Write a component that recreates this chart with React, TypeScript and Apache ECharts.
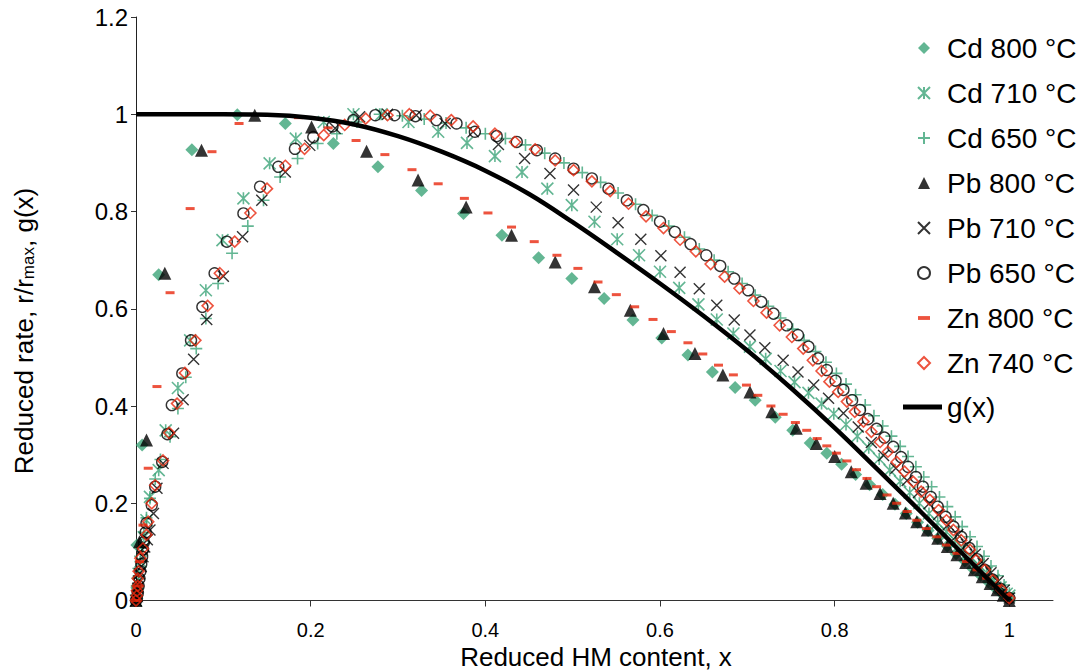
import React, { useEffect, useRef } from 'react';
import * as echarts from 'echarts';

const xTicks = [0, 0.2, 0.4, 0.6, 0.8, 1];
const yTicks = [0, 0.2, 0.4, 0.6, 0.8, 1, 1.2];

const cd800 = [[0,0],[0.001,0.01],[0.001,0.03],[0.001,0.114],[0.007,0.32],[0.026,0.67],[0.064,0.927],[0.116,0.999],[0.171,0.981],[0.226,0.94],[0.277,0.892],[0.327,0.843],[0.375,0.796],[0.419,0.751],[0.461,0.705],[0.499,0.662],[0.536,0.621],[0.569,0.577],[0.602,0.54],[0.632,0.505],[0.66,0.47],[0.686,0.438],[0.709,0.412],[0.732,0.377],[0.752,0.35],[0.772,0.324],[0.791,0.303],[0.808,0.28],[0.824,0.259],[0.84,0.238],[0.855,0.218],[0.869,0.198],[0.882,0.179],[0.895,0.161],[0.907,0.144],[0.918,0.128],[0.929,0.112],[0.939,0.096],[0.949,0.081],[0.958,0.066],[0.967,0.052],[0.976,0.038],[0.984,0.025],[0.992,0.013],[1.0,0.005]];

const cd710 = [[0,0],[0.001,0.015],[0.002,0.035],[0.003,0.055],[0.005,0.08],[0.007,0.105],[0.009,0.13],[0.012,0.165],[0.016,0.213],[0.026,0.268],[0.034,0.35],[0.048,0.437],[0.062,0.535],[0.08,0.638],[0.099,0.741],[0.123,0.827],[0.153,0.899],[0.183,0.95],[0.215,0.984],[0.249,1.0],[0.281,1.0],[0.312,0.984],[0.346,0.964],[0.379,0.941],[0.411,0.914],[0.442,0.881],[0.471,0.847],[0.499,0.813],[0.525,0.779],[0.551,0.743],[0.576,0.71],[0.6,0.676],[0.622,0.643],[0.644,0.609],[0.665,0.578],[0.684,0.549],[0.703,0.522],[0.721,0.497],[0.738,0.472],[0.754,0.449],[0.77,0.427],[0.785,0.405],[0.799,0.384],[0.813,0.362],[0.826,0.338],[0.839,0.314],[0.851,0.291],[0.863,0.268],[0.875,0.245],[0.886,0.222],[0.897,0.2],[0.908,0.179],[0.918,0.16],[0.928,0.141],[0.938,0.123],[0.947,0.106],[0.956,0.089],[0.965,0.073],[0.974,0.057],[0.982,0.042],[0.99,0.027],[0.997,0.014],[1.0,0.01]];

const cd650 = [[0,0],[0.001,0.01],[0.002,0.03],[0.003,0.05],[0.005,0.08],[0.007,0.11],[0.009,0.14],[0.012,0.17],[0.016,0.21],[0.022,0.25],[0.028,0.29],[0.039,0.337],[0.048,0.395],[0.057,0.459],[0.069,0.518],[0.08,0.58],[0.094,0.652],[0.11,0.714],[0.128,0.77],[0.146,0.823],[0.165,0.871],[0.185,0.909],[0.208,0.94],[0.23,0.96],[0.253,0.984],[0.279,1.0],[0.305,0.997],[0.33,0.99],[0.355,0.982],[0.378,0.972],[0.4,0.96],[0.423,0.95],[0.446,0.937],[0.468,0.92],[0.49,0.9],[0.511,0.88],[0.532,0.86],[0.552,0.838],[0.572,0.815],[0.591,0.792],[0.61,0.77],[0.628,0.747],[0.645,0.723],[0.662,0.7],[0.678,0.676],[0.694,0.652],[0.709,0.628],[0.724,0.605],[0.738,0.581],[0.752,0.558],[0.765,0.535],[0.778,0.512],[0.79,0.49],[0.802,0.467],[0.813,0.445],[0.824,0.423],[0.835,0.402],[0.845,0.38],[0.855,0.359],[0.865,0.338],[0.875,0.317],[0.884,0.296],[0.893,0.275],[0.902,0.254],[0.911,0.234],[0.92,0.213],[0.929,0.193],[0.938,0.172],[0.946,0.152],[0.955,0.131],[0.963,0.111],[0.971,0.091],[0.979,0.071],[0.987,0.051],[0.994,0.032],[1.0,0.015]];

const pb800 = [[0,0],[0.001,0.01],[0.002,0.03],[0.004,0.121],[0.012,0.33],[0.033,0.673],[0.075,0.926],[0.136,0.998],[0.201,0.974],[0.264,0.924],[0.323,0.865],[0.378,0.809],[0.43,0.751],[0.48,0.696],[0.525,0.645],[0.566,0.597],[0.604,0.549],[0.64,0.508],[0.672,0.464],[0.703,0.429],[0.728,0.388],[0.756,0.354],[0.779,0.323],[0.8,0.296],[0.819,0.265],[0.836,0.241],[0.852,0.22],[0.867,0.2],[0.881,0.18],[0.894,0.162],[0.906,0.145],[0.918,0.128],[0.929,0.111],[0.94,0.094],[0.95,0.078],[0.96,0.063],[0.969,0.049],[0.978,0.035],[0.986,0.022],[0.993,0.011],[1.0,0.0]];

const pb710 = [[0,0],[0.001,0.01],[0.002,0.025],[0.003,0.04],[0.004,0.055],[0.006,0.07],[0.008,0.09],[0.01,0.11],[0.013,0.125],[0.016,0.145],[0.02,0.179],[0.024,0.231],[0.031,0.282],[0.043,0.344],[0.054,0.413],[0.066,0.496],[0.081,0.578],[0.1,0.667],[0.122,0.748],[0.144,0.823],[0.171,0.881],[0.199,0.936],[0.228,0.971],[0.256,0.995],[0.288,1.0],[0.321,0.998],[0.354,0.981],[0.386,0.964],[0.415,0.938],[0.445,0.909],[0.474,0.878],[0.501,0.844],[0.527,0.809],[0.552,0.777],[0.578,0.743],[0.601,0.709],[0.623,0.675],[0.645,0.641],[0.665,0.607],[0.685,0.577],[0.703,0.546],[0.72,0.52],[0.741,0.494],[0.758,0.47],[0.776,0.443],[0.793,0.416],[0.81,0.385],[0.827,0.357],[0.842,0.325],[0.856,0.298],[0.87,0.272],[0.883,0.247],[0.896,0.222],[0.908,0.199],[0.919,0.177],[0.93,0.156],[0.941,0.135],[0.951,0.115],[0.961,0.095],[0.97,0.076],[0.979,0.057],[0.987,0.039],[0.994,0.021],[1.0,0.005]];

const pb650 = [[0,0],[0.001,0.005],[0.002,0.015],[0.003,0.03],[0.004,0.045],[0.005,0.06],[0.006,0.075],[0.007,0.09],[0.008,0.105],[0.009,0.12],[0.011,0.14],[0.012,0.159],[0.018,0.196],[0.022,0.234],[0.03,0.285],[0.036,0.342],[0.041,0.402],[0.053,0.467],[0.063,0.535],[0.076,0.604],[0.09,0.673],[0.104,0.738],[0.123,0.796],[0.142,0.851],[0.163,0.892],[0.182,0.929],[0.203,0.953],[0.225,0.975],[0.249,0.988],[0.274,0.998],[0.296,0.998],[0.32,0.996],[0.344,0.988],[0.367,0.981],[0.388,0.964],[0.413,0.955],[0.436,0.943],[0.459,0.926],[0.48,0.909],[0.501,0.888],[0.522,0.868],[0.541,0.847],[0.562,0.823],[0.581,0.803],[0.6,0.779],[0.617,0.758],[0.635,0.733],[0.653,0.71],[0.669,0.688],[0.685,0.662],[0.701,0.638],[0.716,0.614],[0.73,0.59],[0.745,0.566],[0.758,0.546],[0.77,0.522],[0.781,0.498],[0.791,0.474],[0.801,0.452],[0.81,0.433],[0.82,0.412],[0.829,0.392],[0.838,0.373],[0.848,0.353],[0.857,0.335],[0.867,0.316],[0.876,0.295],[0.884,0.275],[0.893,0.254],[0.901,0.234],[0.91,0.213],[0.918,0.193],[0.927,0.172],[0.936,0.152],[0.945,0.131],[0.954,0.108],[0.963,0.085],[0.972,0.063],[0.981,0.043],[0.99,0.024],[1.0,0.005]];

const zn800 = [[0,0],[0.002,0.03],[0.004,0.08],[0.008,0.155],[0.014,0.272],[0.024,0.44],[0.039,0.633],[0.062,0.806],[0.087,0.923],[0.118,0.981],[0.151,0.999],[0.186,0.993],[0.22,0.972],[0.252,0.946],[0.285,0.917],[0.316,0.886],[0.346,0.857],[0.376,0.827],[0.403,0.797],[0.43,0.768],[0.456,0.738],[0.482,0.71],[0.506,0.683],[0.529,0.655],[0.55,0.629],[0.571,0.604],[0.592,0.578],[0.613,0.553],[0.632,0.53],[0.649,0.507],[0.667,0.484],[0.684,0.464],[0.699,0.443],[0.712,0.422],[0.727,0.4],[0.741,0.383],[0.755,0.366],[0.768,0.35],[0.78,0.333],[0.791,0.318],[0.802,0.303],[0.814,0.287],[0.825,0.269],[0.837,0.251],[0.848,0.234],[0.86,0.217],[0.871,0.2],[0.883,0.183],[0.894,0.165],[0.905,0.148],[0.917,0.131],[0.928,0.114],[0.94,0.097],[0.951,0.08],[0.963,0.063],[0.974,0.046],[0.986,0.029],[0.997,0.011]];

const zn740 = [[0,0],[0.001,0.01],[0.001,0.02],[0.002,0.03],[0.002,0.045],[0.003,0.06],[0.005,0.087],[0.008,0.107],[0.012,0.135],[0.014,0.162],[0.018,0.2],[0.022,0.237],[0.031,0.288],[0.038,0.345],[0.047,0.405],[0.056,0.468],[0.068,0.535],[0.082,0.606],[0.096,0.673],[0.113,0.738],[0.131,0.797],[0.15,0.847],[0.171,0.894],[0.193,0.929],[0.215,0.957],[0.239,0.978],[0.263,0.991],[0.288,0.998],[0.313,1.0],[0.337,0.997],[0.361,0.988],[0.386,0.975],[0.411,0.96],[0.434,0.943],[0.457,0.928],[0.48,0.905],[0.501,0.885],[0.522,0.862],[0.543,0.842],[0.564,0.816],[0.584,0.79],[0.604,0.766],[0.623,0.742],[0.641,0.718],[0.658,0.692],[0.674,0.666],[0.691,0.642],[0.707,0.616],[0.722,0.592],[0.737,0.566],[0.751,0.542],[0.764,0.518],[0.775,0.494],[0.785,0.472],[0.794,0.45],[0.804,0.429],[0.814,0.409],[0.823,0.388],[0.833,0.368],[0.842,0.347],[0.852,0.326],[0.861,0.306],[0.871,0.285],[0.88,0.265],[0.89,0.244],[0.899,0.224],[0.909,0.207],[0.919,0.186],[0.928,0.165],[0.936,0.145],[0.945,0.124],[0.955,0.104],[0.962,0.083],[0.972,0.063],[0.981,0.042],[0.991,0.022],[1.0,0.005]];

const gCurve = [[0,1],[0.05,1],[0.1,1],[0.15,0.999],[0.2,0.993],[0.25,0.979],[0.3,0.955],[0.35,0.923],[0.4,0.884],[0.45,0.836],[0.5,0.778],[0.55,0.716],[0.6,0.652],[0.65,0.585],[0.7,0.514],[0.75,0.437],[0.8,0.355],[0.85,0.268],[0.9,0.18],[0.95,0.09],[1.0,0]];

const scatterNames = ['Cd 800 °C', 'Cd 710 °C', 'Cd 650 °C', 'Pb 800 °C', 'Pb 710 °C', 'Pb 650 °C', 'Zn 800 °C', 'Zn 740 °C'];

const GREEN = '#3ca478';
const RED = '#e8280e';
const BLACK = '#000000';
const FONT = '"Liberation Sans", Arial, Helvetica, sans-serif';
const NONE = 'rgba(0,0,0,0)';

const PATH_X = 'path://M0,0 L10,10 M0,10 L10,0';
const PATH_PLUS = 'path://M5,0 L5,10 M0,5 L10,5';
const PATH_STAR = 'path://M0,0 L10,10 M0,10 L10,0 M5,0 L5,10';
const PATH_DASH = 'path://M0,0 L10,0 L10,3.2 L0,3.2 Z';

function scatter(name: string, data: number[][], symbol: string, size: any, itemStyle: any) {
  return {
    type: 'scatter',
    name,
    data,
    symbol,
    symbolSize: size,
    itemStyle,
    clip: false,
    silent: true,
    emphasis: { disabled: true },
  };
}

export default function App() {
  const ref = useRef<HTMLDivElement>(null);
  useEffect(() => {
    if (!ref.current) return;
    const chart = echarts.init(ref.current, undefined, { renderer: 'svg' });
    const option: any = {
      animation: false,
      backgroundColor: '#ffffff',
      grid: { left: 136, right: 25, top: 17, bottom: 71.5, containLabel: false },
      xAxis: {
        type: 'value',
        min: 0,
        max: 1.05,
        interval: 0.2,
        axisLine: { show: true, onZero: false, lineStyle: { color: '#333', width: 1 } },
        axisTick: { show: true, length: 6, customValues: xTicks, lineStyle: { color: '#333' } },
        axisLabel: { customValues: xTicks, margin: 19, fontSize: 20, color: '#000', fontFamily: FONT },
        splitLine: { show: false },
      },
      yAxis: {
        type: 'value',
        min: 0,
        max: 1.2,
        interval: 0.2,
        axisLine: { show: true, onZero: false, lineStyle: { color: '#222', width: 1 } },
        axisTick: { show: true, length: 5, customValues: yTicks, lineStyle: { color: '#333' } },
        axisLabel: { customValues: yTicks, margin: 8, fontSize: 24, color: '#000', fontFamily: FONT },
        splitLine: { show: false },
      },
      legend: [
        {
          orient: 'vertical',
          left: 917,
          top: 33,
          padding: 0,
          itemWidth: 12,
          itemHeight: 12,
          itemGap: 15,
          selectedMode: false,
          textStyle: { fontSize: 28, lineHeight: 30, color: '#000', fontFamily: FONT, padding: [0, 0, 0, 12] },
          data: scatterNames,
        },
        {
          orient: 'vertical',
          left: 903,
          top: 392,
          padding: 0,
          itemWidth: 39,
          itemHeight: 5,
          itemGap: 15,
          selectedMode: false,
          textStyle: { fontSize: 28, lineHeight: 30, color: '#000', fontFamily: FONT },
          data: [{ name: 'g(x)', icon: 'rect', itemStyle: { color: BLACK } }],
        },
      ],
      graphic: [
        {
          type: 'text',
          x: 596,
          y: 657,
          silent: true,
          style: {
            text: 'Reduced HM content, x',
            fontSize: 26,
            fontFamily: FONT,
            fill: '#000',
            align: 'center',
            verticalAlign: 'middle',
          },
        },
        {
          type: 'text',
          x: 22,
          y: 331,
          rotation: Math.PI / 2,
          silent: true,
          style: {
            text: '{n|Reduced rate, r/r}{s|max}{n|, g(x)}',
            fill: '#000',
            align: 'center',
            verticalAlign: 'middle',
            rich: {
              n: { fontSize: 26, fontFamily: FONT, lineHeight: 30, verticalAlign: 'bottom', fill: '#000' },
              s: { fontSize: 17, fontFamily: FONT, lineHeight: 17, verticalAlign: 'bottom', fill: '#000' },
            },
          },
        },
      ],
      series: [
        scatter(scatterNames[0], cd800, 'diamond', 13, { color: GREEN }),
        scatter(scatterNames[1], cd710, PATH_STAR, 12, { color: NONE, borderColor: GREEN, borderWidth: 1.6 }),
        scatter(scatterNames[2], cd650, PATH_PLUS, 12, { color: NONE, borderColor: GREEN, borderWidth: 1.6 }),
        scatter(scatterNames[3], pb800, 'triangle', 13, { color: BLACK }),
        scatter(scatterNames[4], pb710, PATH_X, 11, { color: NONE, borderColor: BLACK, borderWidth: 1.4 }),
        scatter(scatterNames[5], pb650, 'circle', 11, { color: NONE, borderColor: BLACK, borderWidth: 1.4 }),
        scatter(scatterNames[6], zn800, PATH_DASH, [9, 3], { color: RED }),
        scatter(scatterNames[7], zn740, 'diamond', 11, { color: NONE, borderColor: RED, borderWidth: 1.6 }),
        {
          type: 'line',
          name: 'g(x)',
          data: gCurve,
          showSymbol: false,
          symbol: 'none',
          smooth: 0.4,
          silent: true,
          lineStyle: { color: BLACK, width: 4.5 },
          itemStyle: { color: BLACK },
          emphasis: { disabled: true },
          z: 3,
        },
      ],
    };
    chart.setOption(option);
    return () => chart.dispose();
  }, []);
  return (
    <div
      ref={ref}
      style={{ position: 'fixed', left: 0, top: 0, width: 1078, height: 672, background: '#fff' }}
    />
  );
}
